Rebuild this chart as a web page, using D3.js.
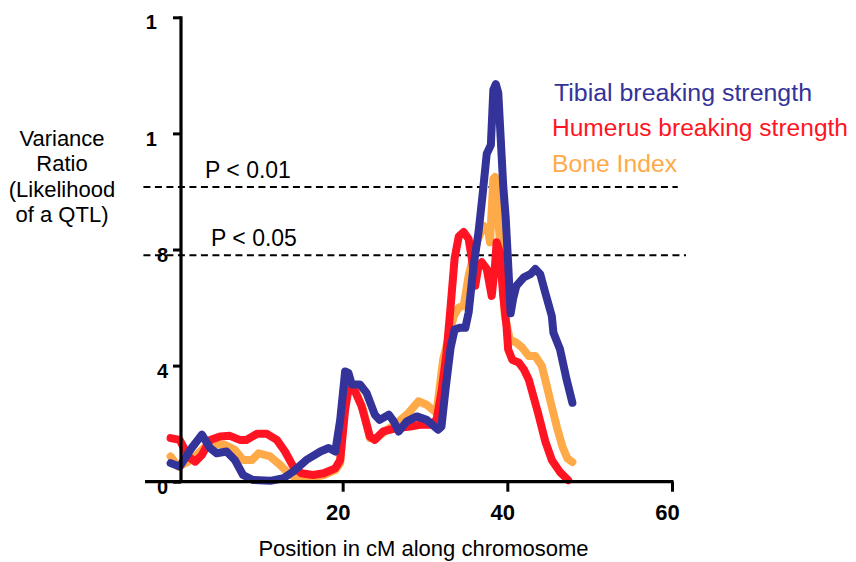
<!DOCTYPE html>
<html>
<head>
<meta charset="utf-8">
<script src="https://cdn.jsdelivr.net/npm/d3@7"></script>
<style>
  html, body { margin: 0; padding: 0; background: #fff; }
  svg { display: block; font-family: "Liberation Sans", Arial, Helvetica, sans-serif; }
</style>
</head>
<body>
<svg id="chart" width="856" height="562"></svg>
<script>
// Variance ratio (likelihood of a QTL) along the chromosome, three traits.

// Tibial breaking strength
const tibialCM = [-0.9, 0.2, 1.5, 2.9, 3.9, 4.7, 5.9, 6.9, 7.9, 9.1, 11.2, 12.8, 14.0, 15.6, 17.3, 18.3, 19.1, 19.7, 20.3, 20.7, 21.1, 22.1, 22.9, 23.9, 24.5, 25.6, 26.2, 26.8, 27.8, 29.0, 30.2, 31.6, 32.0, 32.5, 33.1, 33.6, 34.2, 34.9, 35.3, 35.9, 36.5, 37.0, 37.5, 38.0, 38.3, 38.6, 38.9, 39.2, 39.5, 39.8, 40.1, 40.4, 40.7, 41.1, 42.0, 42.8, 43.4, 44.0, 44.6, 45.4, 45.6, 46.4, 47.2, 47.9];
const tibialVR = [0.64, 0.52, 1.1, 1.62, 1.16, 0.98, 1.04, 0.75, 0.23, 0.06, 0.03, 0.12, 0.35, 0.75, 1.04, 1.16, 1.04, 2.13, 3.8, 3.75, 3.35, 3.35, 3.06, 2.31, 2.13, 2.31, 2.08, 1.73, 2.08, 2.25, 2.13, 1.79, 1.9, 3.2, 4.6, 5.25, 5.3, 5.3, 5.83, 7.44, 8.6, 9.9, 11.3, 11.6, 13.5, 13.7, 13.4, 11.8, 10.2, 9.1, 7.5, 5.8, 6.3, 6.75, 7.04, 7.15, 7.33, 7.15, 6.52, 5.71, 5.13, 4.56, 3.52, 2.72];

// Humerus breaking strength
const humerusCM = [-0.9, 0.2, 1.25, 2.1, 2.9, 3.9, 5.1, 6.3, 7.5, 8.3, 9.6, 10.8, 12.0, 13.0, 14.0, 15.0, 16.4, 17.7, 19.1, 19.7, 20.3, 20.7, 21.5, 22.3, 23.3, 23.9, 24.9, 26.6, 28.2, 29.4, 30.6, 31.4, 32.0, 32.6, 33.1, 33.6, 34.1, 34.7, 35.3, 35.7, 36.1, 36.5, 36.9, 37.5, 38.1, 38.5, 38.7, 39.1, 39.5, 39.9, 40.1, 40.6, 41.4, 42.0, 42.6, 43.7, 44.6, 45.4, 46.4, 47.4];
const humerusVR = [1.5, 1.44, 0.87, 0.69, 0.92, 1.44, 1.56, 1.58, 1.44, 1.44, 1.65, 1.65, 1.44, 1.04, 0.52, 0.29, 0.23, 0.29, 0.46, 0.75, 2.48, 3.17, 3.11, 2.6, 1.56, 1.44, 1.73, 1.85, 1.9, 1.96, 1.96, 2.13, 3.1, 4.4, 6.0, 7.7, 8.45, 8.6, 8.36, 7.67, 6.75, 7.44, 7.56, 7.33, 6.4, 7.44, 8.25, 7.9, 6.4, 5.36, 4.56, 4.2, 4.1, 3.87, 3.52, 2.4, 1.4, 0.75, 0.33, 0.05];

// Bone index
const boneCM = [-0.9, 0.04, 1.25, 2.3, 3.3, 4.3, 5.7, 6.9, 7.9, 9.0, 9.8, 11.2, 12.4, 13.4, 14.4, 16.0, 17.7, 19.1, 19.7, 20.3, 20.7, 21.5, 22.5, 23.3, 24.1, 25.4, 26.6, 28.0, 29.2, 30.2, 31.4, 31.8, 32.2, 33.5, 34.1, 34.7, 35.3, 36.3, 37.1, 37.7, 37.9, 38.3, 38.5, 38.7, 38.9, 39.3, 39.7, 40.3, 41.1, 41.8, 42.6, 43.4, 44.2, 44.6, 45.3, 46.0, 46.7, 47.3, 47.9];
const boneVR = [0.87, 0.52, 0.69, 0.92, 1.21, 1.3, 1.27, 1.1, 0.75, 0.75, 0.98, 0.87, 0.58, 0.29, 0.12, 0.12, 0.23, 0.4, 0.64, 2.83, 3.23, 3.17, 2.48, 1.5, 1.5, 1.79, 2.02, 2.37, 2.77, 2.65, 2.37, 3.29, 4.2, 5.71, 6.0, 6.06, 7.1, 8.25, 8.82, 8.6, 8.25, 10.44, 10.5, 10.0, 9.05, 7.5, 5.7, 4.9, 4.79, 4.62, 4.33, 4.33, 3.98, 3.52, 2.7, 1.9, 1.2, 0.8, 0.68];

const seriesNames  = ["Tibial breaking strength", "Humerus breaking strength", "Bone Index"];
const seriesColors = ["#333399", "#ff1424", "#ffaa48"];

const xTicks = [20, 40, 60];
const yTicks = [0, 4, 8, 12, 16];
const yTickLabels = ["0", "4", "8", "1", "1"];

const thresholdLabels = ["P < 0.01", "P < 0.05"];
const thresholdValues = [10.15, 7.8];

const yTitleLines = ["Variance", "Ratio", "(Likelihood", "of a QTL)"];
const xTitle = "Position in cM along chromosome";

// ---- layout ----
const svg = d3.select("#chart");
const x = d3.scaleLinear().domain([0, 60]).range([178, 672]);
const y = d3.scaleLinear().domain([0, 16]).range([481.7, 17.3]);
const yAxisX = 181;

// threshold lines
const thrEnds = [60.7, 61.7];
thresholdValues.forEach((v, i) => {
  svg.append("line")
    .attr("x1", x(-4.2)).attr("x2", x(thrEnds[i]))
    .attr("y1", y(v)).attr("y2", y(v))
    .attr("stroke", "#000").attr("stroke-width", 2)
    .attr("stroke-dasharray", "7,4.5");
});
const thrLabelX = [205, 211];
thresholdValues.forEach((v, i) => {
  svg.append("text")
    .attr("x", thrLabelX[i]).attr("y", y(v) - 9.5)
    .attr("font-size", 23).attr("fill", "#000")
    .text(thresholdLabels[i]);
});

// series lines
const line = d3.line().x(d => x(d[0])).y(d => y(d[1])).curve(d3.curveLinear);
const series = [
  { cm: tibialCM, vr: tibialVR, color: seriesColors[0] },
  { cm: humerusCM, vr: humerusVR, color: seriesColors[1] },
  { cm: boneCM, vr: boneVR, color: seriesColors[2] }
];
// bone index underneath, then humerus, tibial on top
[2, 1, 0].forEach(k => {
  const s = series[k];
  const pts = s.cm.map((c, i) => [c, s.vr[i]]);
  svg.append("path")
    .attr("d", line(pts))
    .attr("fill", "none")
    .attr("stroke", s.color)
    .attr("stroke-width", 8)
    .attr("stroke-linejoin", "round")
    .attr("stroke-linecap", "round");
});

// x axis
const xAxis = d3.axisBottom(x).tickValues(xTicks).tickSize(10).tickPadding(13).tickFormat(d => String(d));
const gx = svg.append("g").attr("transform", `translate(0,${y(0)})`).call(xAxis);
gx.select(".domain").remove();
gx.selectAll(".tick line").attr("stroke", "#000").attr("stroke-width", 3);
gx.selectAll(".tick text")
  .attr("font-size", 22).attr("font-weight", "bold").attr("fill", "#000")
  .attr("font-family", "Liberation Sans, Arial, sans-serif")
  .attr("dx", -5);
svg.append("line")
  .attr("x1", x(-4)).attr("x2", x(60) + 1.5)
  .attr("y1", y(0)).attr("y2", y(0))
  .attr("stroke", "#000").attr("stroke-width", 3.2);

// y axis
const yAxis = d3.axisLeft(y).tickValues(yTicks).tickSize(8).tickPadding(5)
  .tickFormat((d, i) => yTickLabels[i]);
const gy = svg.append("g").attr("transform", `translate(${yAxisX},0)`).call(yAxis);
gy.select(".domain").remove();
gy.selectAll(".tick line").attr("stroke", "#000").attr("stroke-width", 3);
gy.selectAll(".tick text")
  .attr("font-size", 20).attr("font-weight", "bold").attr("fill", "#000")
  .attr("font-family", "Liberation Sans, Arial, sans-serif")
  .attr("dy", "0.58em")
  // a shortened label keeps the leading digits of the right-aligned number
  .attr("dx", (d, i) => `${-0.556 * (String(d).length - yTickLabels[i].length)}em`);
svg.append("line")
  .attr("x1", yAxisX).attr("x2", yAxisX)
  .attr("y1", y(16) - 1).attr("y2", y(0))
  .attr("stroke", "#000").attr("stroke-width", 3.2);

// y title
const yTitle = svg.append("text").attr("font-size", 22).attr("fill", "#000").attr("text-anchor", "middle");
yTitleLines.forEach((t, i) => {
  yTitle.append("tspan").attr("x", 62).attr("y", 146 + i * 25.4).text(t);
});

// x title
svg.append("text")
  .attr("x", 423.5).attr("y", 556)
  .attr("font-size", 22).attr("text-anchor", "middle").attr("fill", "#000")
  .text(xTitle);

// legend
const legendX = [554, 552, 552];
const legendY = [100.7, 135.7, 171.7];
const legendLen = [258, 296, 125];
seriesNames.forEach((n, i) => {
  svg.append("text")
    .attr("x", legendX[i]).attr("y", legendY[i])
    .attr("font-size", 23).attr("fill", seriesColors[i])
    .attr("textLength", legendLen[i]).attr("lengthAdjust", "spacingAndGlyphs")
    .text(n);
});
</script>
</body>
</html>
